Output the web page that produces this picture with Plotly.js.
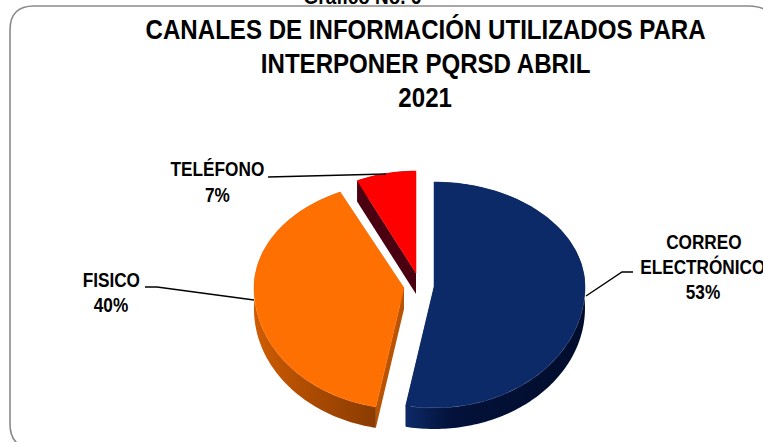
<!DOCTYPE html>
<html><head><meta charset="utf-8">
<script src="https://cdn.plot.ly/plotly-3.0.1.min.js"></script>
<style>html,body{margin:0;padding:0;background:#fff;overflow:hidden}</style>
</head><body><div id="chart" style="width:763px;height:442px"></div>
<script>
// Data
const categories = ["CORREO ELECTRÓNICO", "FISICO", "TELÉFONO"];
const values = [53, 40, 7];
const titleLines = ["CANALES DE INFORMACIÓN UTILIZADOS PARA", "INTERPONER PQRSD ABRIL", "2021"];
const captionText = "Gráfico No. 6";

// Styling
const faceColors = ["#0d2a68", "#ff7003", "#ff0000"];
const sideColors = ["#03123a", "#b85404", "#4a0010"];
const sideScales = [
  [[0, "#0d2a68"], [0.25, "#03123a"], [1, "#020d2c"]],
  [[0, "#cf5c02"], [0.5, "#a94a02"], [1, "#8a3c02"]],
  null
];
const apexX = [434, 404, 416];
const apexY = [287, 288, 273];
const radiusX = [151, 150, 138];
const radiusUp = [105, 106, 102];
const radiusDown = [121, 121, 121];
const depth = 21;
const squeeze = 0.86;

const fraction = values.map(v => v / values.reduce((a, b) => a + b, 0));
function pt(i, a) {
  const c = Math.cos(a), s = Math.sin(a);
  return [apexX[i] + radiusX[i] * s, apexY[i] - (c > 0 ? radiusUp[i] : radiusDown[i]) * c];
}
const traces = [];
let cum = 0;
const order = [2, 1, 0];
const spans = fraction.map(f => { const r = [cum * 2 * Math.PI, (cum + f) * 2 * Math.PI]; cum += f; return r; });
order.forEach(i => {
  const [a0, a1] = spans[i];
  const arc = [];
  const n = Math.ceil((a1 - a0) / 0.02);
  for (let k = 0; k <= n; k++) arc.push(pt(i, a0 + (a1 - a0) * k / n));
  const first = arc[0], last = arc[arc.length - 1], ax = apexX[i], ay = apexY[i];
  // the two cut faces, extruded downwards
  [first, last].forEach(p => traces.push({
    type: "scatter", mode: "none", fill: "toself", name: categories[i] + " corte",
    x: [ax, p[0], p[0], ax, ax], y: [ay, p[1], p[1] + depth, ay + depth, ay],
    fillcolor: sideColors[i], hoverinfo: "skip", showlegend: false
  }));
  // outer band
  const side = {
    type: "scatter", mode: "none", fill: "toself", name: categories[i] + " lateral",
    x: arc.map(p => p[0]).concat(arc.slice().reverse().map(p => p[0])),
    y: arc.map(p => p[1]).concat(arc.slice().reverse().map(p => p[1] + depth)),
    fillcolor: sideColors[i], hoverinfo: "skip", showlegend: false
  };
  if (sideScales[i]) side.fillgradient = { type: "horizontal", colorscale: sideScales[i] };
  traces.push(side);
  // top face
  const fx = [ax].concat(arc.map(p => p[0]), [ax]);
  const fy = [ay].concat(arc.map(p => p[1]), [ay]);
  traces.push({
    type: "scatter", mode: "lines", x: fx, y: fy, fill: "toself", name: categories[i],
    fillcolor: faceColors[i], line: { color: faceColors[i], width: 0.5 },
    hoverinfo: "name", showlegend: false
  });
});

// Leader lines
const leaderX = [[268, 386], [145, 157, 254], [633, 622, 586]];
const leaderY = [[177, 174], [287, 287, 300], [272, 272, 296]];
leaderX.forEach((lx, i) => traces.push({
  type: "scatter", mode: "lines", x: lx, y: leaderY[i],
  line: { color: "#000", width: 1.4 }, hoverinfo: "skip", showlegend: false
}));

const FONT = '"Liberation Sans",Arial,sans-serif';
const text = (t, x, y, size) => ({
  text: "<b>" + t + "</b>", x, y, xref: "x", yref: "y", showarrow: false,
  xanchor: "center", yanchor: "middle", font: { family: FONT, size, color: "#000" }
});
const titleY = [29, 63, 97];
const labelFont = 20;
const annotations = [
  Object.assign(text(captionText, 362, 0, 22), { yshift: 4 }),
  ...titleLines.map((t, i) => text(t, 425, titleY[i], 28)),
  text("CORREO", 704, 242, labelFont),
  text("ELECTRÓNICO", 703, 266, labelFont),
  text(values[0] + "%", 703, 292, labelFont),
  text("FISICO", 111, 280, labelFont),
  text(values[1] + "%", 111, 305, labelFont),
  text("TELÉFONO", 217, 169, labelFont),
  text(values[2] + "%", 217, 195, labelFont)
];

const axis = { visible: false, fixedrange: true };
Plotly.newPlot("chart", traces, {
  width: 763, height: 442, margin: { l: 0, r: 0, t: 0, b: 0 },
  paper_bgcolor: "#fff", plot_bgcolor: "#fff", showlegend: false,
  xaxis: Object.assign({ range: [0, 763] }, axis),
  yaxis: Object.assign({ range: [442, 0] }, axis),
  annotations,
  shapes: [{
    type: "path", xref: "x", yref: "y", layer: "below",
    path: "M 34 6 L 749 6 Q 775 6 775 32 L 775 424 Q 775 448 751 448 L 34 448 Q 10 448 10 424 L 10 30 Q 10 6 34 6 Z",
    line: { color: "#8a8a8a", width: 1.6 }, fillcolor: "rgba(0,0,0,0)"
  }]
}, { displayModeBar: false }).then(gd => {
  // The reference's lettering is condensed: narrow the real text horizontally.
  gd.querySelectorAll(".annotation-text").forEach(el => {
    el.setAttribute("textLength", el.getComputedTextLength() * squeeze);
    el.setAttribute("lengthAdjust", "spacingAndGlyphs");
  });
});
</script></body></html>
